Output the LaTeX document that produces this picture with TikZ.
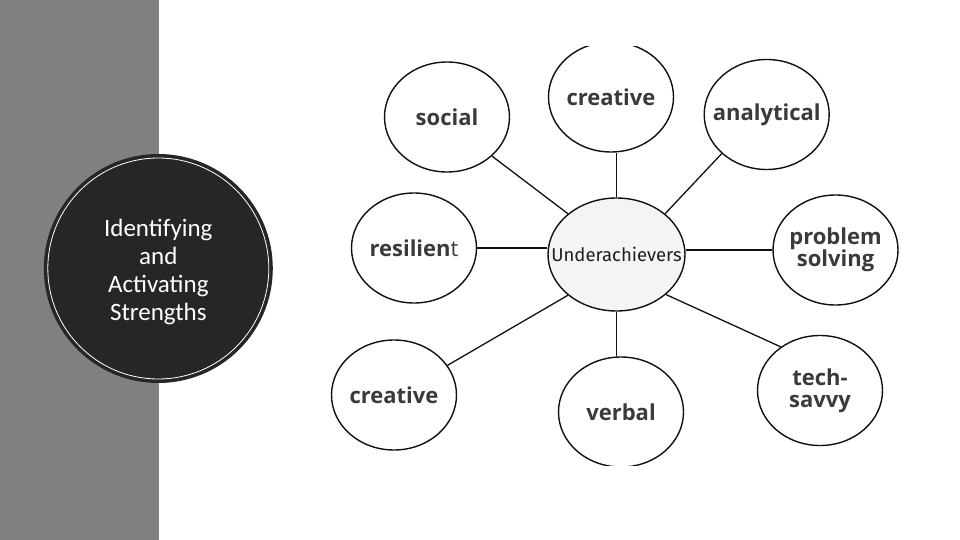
\documentclass[tikz,border=0pt]{standalone}
\usepackage{fontspec}
\setmainfont{Carlito}
\newfontfamily\bubfont{Open Sans}
\newfontfamily\hubfont{Fira Sans}
\usetikzlibrary{shapes.geometric}
\definecolor{barGray}{HTML}{808080}
\definecolor{darkDisc}{HTML}{262626}
\definecolor{labelGray}{HTML}{3A3A3A}
\definecolor{hubFill}{HTML}{F4F4F4}
\definecolor{inkBlack}{HTML}{111111}
\begin{document}
\begin{tikzpicture}[x=1pt,y=-1pt,
  bubble/.style={ellipse, draw=inkBlack, line width=1.4pt, fill=white,
    minimum width=125pt, minimum height=110pt, inner xsep=-14pt, inner ysep=-6pt,
    font=\bubfont\bfseries\fontsize{22}{22}\selectfont,
    text=labelGray, align=center},
  hubstyle/.style={bubble, fill=hubFill, minimum width=137pt, minimum height=113pt,
    inner xsep=-20pt,
    font=\hubfont\fontsize{18.5}{20}\selectfont, text=black!88},
  link/.style={draw=inkBlack, line width=1.3pt}]
\useasboundingbox (0,0) rectangle (960,540);
\fill[white] (0,0) rectangle (960,540);
\fill[barGray] (0,0) rectangle (159,540);
% title disc
\node[circle, fill=darkDisc, minimum size=229pt, inner sep=0pt] (disc) at (158.3,268.5) {};
\draw[white, line width=0.8pt] (disc.center) circle (110.5pt);
\node[text=white, font=\fontsize{25}{28}\selectfont, align=center] (title) at (158.3,272)
  {Identifying\\and\\Activating\\Strengths};
% mind map
\begin{scope}
\clip (300,47) rectangle (930,465);
\node[hubstyle] (hub) at (616.5,254.5) {Underachievers};
\node[bubble] (social) at (447,117) {social};
\node[bubble] (ctop) at (611,97) {creative};
\node[bubble] (analytical) at (766.7,114.5) {analytical};
\node[bubble] (resilient) at (414,248) {resilien{\mdseries t}};
\node[bubble] (problem) at (835.5,250) {problem\\solving};
\node[bubble] (cbot) at (394,395) {creative};
\node[bubble] (verbal) at (621,412) {verbal};
\node[bubble] (tech) at (820,390.5) {tech-\\savvy};
\draw[link] (social.-41) -- (hub.140);
\draw[link] (hub.north) -- (hub.north |- ctop.south);
\draw[link] (analytical.-139) -- (hub.40);
\draw[link] (resilient.east) -- (resilient.east -| hub.west);
\draw[link] (hub.east |- problem.west) -- (problem.west);
\draw[link] (hub.-140) -- (cbot.29);
\draw[link] (hub.south) -- (hub.south |- verbal.north);
\draw[link] (hub.-39) -- (tech.132);
\end{scope}
\end{tikzpicture}
\end{document}
